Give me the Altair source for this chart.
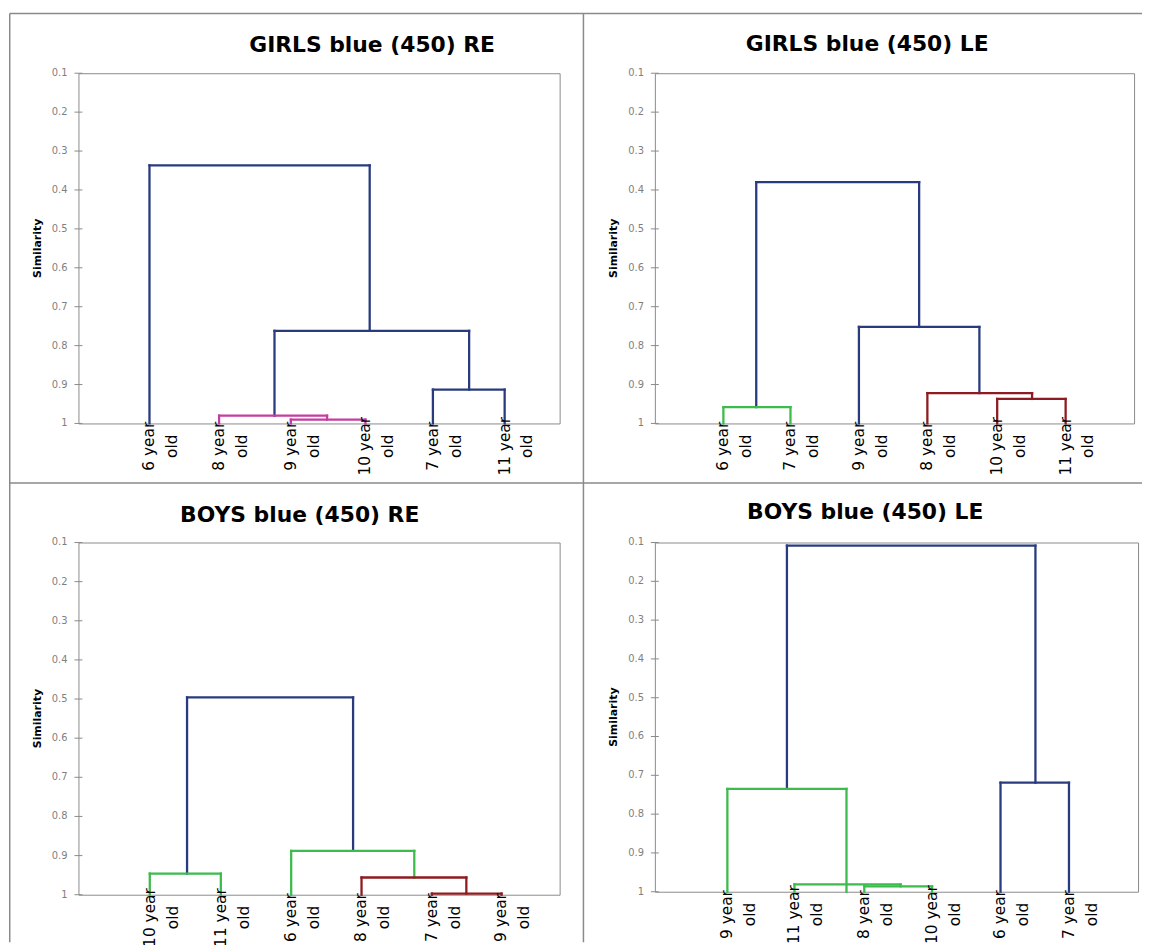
import altair as alt
import pandas as pd

BLUE = "#293B7E"
PINK = "#C43DA0"
GREEN = "#3DBB4C"
RED = "#8E1B21"
GREY = "#8A8A8A"

ticks = [0.1, 0.2, 0.3, 0.4, 0.5, 0.6, 0.7, 0.8, 0.9, 1.0]
tick_labels = ["0.1", "0.2", "0.3", "0.4", "0.5", "0.6", "0.7", "0.8", "0.9", "1"]
y_title = "Similarity"

# ---- GIRLS RE ----
p1_title = "GIRLS blue (450) RE"
p1_labels = ["6 year\nold", "8 year\nold", "9 year\nold", "10 year\nold", "7 year\nold", "11 year\nold"]
p1_label_x = [1.0, 1.98, 2.99, 4.04, 4.99, 6.0]
p1_xl = [1.0, 2.76, 4.99, 1.98, 2.99]
p1_xr = [4.10, 5.50, 6.0, 3.50, 4.04]
p1_h = [0.337, 0.762, 0.913, 0.980, 0.990]
p1_yl = [1.0, 0.980, 1.0, 1.0, 1.0]
p1_yr = [0.762, 0.913, 1.0, 0.990, 1.0]
p1_col = [BLUE, BLUE, BLUE, PINK, PINK]

# ---- GIRLS LE ----
p2_title = "GIRLS blue (450) LE"
p2_labels = ["6 year\nold", "7 year\nold", "9 year\nold", "8 year\nold", "10 year\nold", "11 year\nold"]
p2_label_x = [1.03, 2.01, 3.01, 4.01, 5.03, 6.03]
p2_xl = [1.51, 1.03, 3.01, 4.01, 5.03]
p2_xr = [3.89, 2.01, 4.77, 5.54, 6.03]
p2_h = [0.380, 0.958, 0.752, 0.922, 0.937]
p2_yl = [0.958, 1.0, 1.0, 1.0, 1.0]
p2_yr = [0.752, 1.0, 0.922, 0.937, 1.0]
p2_col = [BLUE, GREEN, BLUE, RED, RED]

# ---- BOYS RE ----
p3_title = "BOYS blue (450) RE"
p3_labels = ["10 year\nold", "11 year\nold", "6 year\nold", "8 year\nold", "7 year\nold", "9 year\nold"]
p3_label_x = [1.0, 2.01, 3.01, 4.01, 5.01, 6.0]
p3_xl = [1.53, 1.0, 3.01, 4.01, 5.01]
p3_xr = [3.89, 2.01, 4.76, 5.50, 6.0]
p3_h = [0.496, 0.946, 0.888, 0.956, 0.997]
p3_yl = [0.946, 1.0, 1.0, 1.0, 1.0]
p3_yr = [0.888, 1.0, 0.956, 0.997, 1.0]
p3_col = [BLUE, GREEN, GREEN, RED, RED]

# ---- BOYS LE ----
p4_title = "BOYS blue (450) LE"
p4_labels = ["9 year\nold", "11 year\nold", "8 year\nold", "10 year\nold", "6 year\nold", "7 year\nold"]
p4_label_x = [1.02, 2.0, 3.02, 4.01, 5.01, 6.01]
p4_xl = [1.89, 1.02, 2.0, 3.02, 5.01]
p4_xr = [5.52, 2.76, 3.55, 4.01, 6.01]
p4_h = [0.108, 0.735, 0.981, 0.986, 0.719]
p4_yl = [0.735, 1.0, 1.0, 1.0, 1.0]
p4_yr = [0.719, 1.0, 0.986, 1.0, 1.0]
p4_col = [BLUE, GREEN, GREEN, GREEN, BLUE]


def panel(title, labels, label_x, xl, xr, h, yl, yr, col, xdom, w, hgt, tx, ty, borders=False):
    rows = []
    for a, b, c, d, e, f in zip(xl, xr, h, yl, yr, col):
        rows.append(dict(x=a, x2=b, y=c, y2=c, c=f))
        rows.append(dict(x=a, x2=a, y=c, y2=d, c=f))
        rows.append(dict(x=b, x2=b, y=c, y2=e, c=f))
    seg = pd.DataFrame(rows)
    xs = alt.Scale(domain=xdom, nice=False, zero=False)
    ys = alt.Scale(domain=[0.1, 1.0], reverse=True, nice=False, zero=False)
    tdf = pd.DataFrame({"t": ticks, "s": tick_labels})
    tk = alt.Chart(tdf).mark_rule(color=GREY, strokeWidth=1).encode(
        y=alt.Y("t:Q", scale=ys, axis=None), x=alt.value(-4), x2=alt.value(4)
    )
    tkl = alt.Chart(tdf).mark_text(
        font="DejaVu Sans", fontSize=10, color="#7F7F7F", align="right", baseline="middle", dx=-11
    ).encode(y=alt.Y("t:Q", scale=ys, axis=None), x=alt.value(0), text="s:N")
    ytl = alt.Chart(pd.DataFrame({"t": [y_title]})).mark_text(
        font="DejaVu Sans", fontSize=11, fontWeight="bold", color="black", angle=270,
        align="center", baseline="middle",
    ).encode(x=alt.value(-41), y=alt.value(hgt / 2), text="t:N")
    lines = alt.Chart(seg).mark_rule(strokeWidth=2.3, strokeCap="square").encode(
        x=alt.X("x:Q", scale=xs, axis=None), x2="x2",
        y=alt.Y("y:Q", scale=ys, axis=None), y2="y2",
        color=alt.Color("c:N", scale=None),
    )
    lab = alt.Chart(pd.DataFrame({"lx": label_x, "txt": labels, "ly": [1.0] * len(labels)})).mark_text(
        font="DejaVu Sans", fontSize=15.5, lineHeight=23, angle=270, align="center",
        baseline="middle", dx=-23, color="black", lineBreak="\n",
    ).encode(
        x=alt.X("lx:Q", scale=xs, axis=None), y=alt.Y("ly:Q", scale=ys, axis=None), text="txt:N"
    )
    ttl = alt.Chart(pd.DataFrame({"t": [title]})).mark_text(
        font="DejaVu Sans", fontSize=22, fontWeight="bold", color="black",
        align="center", baseline="alphabetic",
    ).encode(x=alt.value(tx), y=alt.value(ty), text="t:N")
    layers = [tk, tkl, ytl, lines, lab, ttl]
    if borders:
        one = pd.DataFrame({"k": [0]})
        bs = dict(color=GREY, strokeWidth=1.5)
        layers += [
            alt.Chart(one).mark_rule(**bs).encode(x=alt.value(-69.25), x2=alt.value(1072), y=alt.value(-60.25)),
            alt.Chart(one).mark_rule(**bs).encode(x=alt.value(-69.25), x2=alt.value(1072), y=alt.value(413)),
            alt.Chart(one).mark_rule(**bs).encode(x=alt.value(-69.25), y=alt.value(-60.25), y2=alt.value(876)),
            alt.Chart(one).mark_rule(**bs).encode(x=alt.value(509), y=alt.value(-60.25), y2=alt.value(876)),
        ]
    return alt.layer(*layers).properties(width=w, height=hgt)


c1 = panel(p1_title, p1_labels, p1_label_x, p1_xl, p1_xr, p1_h, p1_yl, p1_yr, p1_col,
           [0, 6.774], 485, 353, 296, -21, borders=True)
c2 = panel(p2_title, p2_labels, p2_label_x, p2_xl, p2_xr, p2_h, p2_yl, p2_yr, p2_col,
           [0.029, 7.03], 483, 353, 214, -22)
c3 = panel(p3_title, p3_labels, p3_label_x, p3_xl, p3_xr, p3_h, p3_yl, p3_yr, p3_col,
           [-0.014, 6.826], 485, 355, 223, -21)
c4 = panel(p4_title, p4_labels, p4_label_x, p4_xl, p4_xr, p4_h, p4_yl, p4_yr, p4_col,
           [-0.039, 7.019], 487, 352, 212, -24)

chart = alt.concat(c1, c2, c3, c4, columns=2, spacing={"row": 120, "column": 96}, bounds="flush").properties(
    padding=0
).configure_view(stroke=GREY, strokeWidth=1)

chart.save("out.html", embed_options={"renderer": "svg", "actions": False})
